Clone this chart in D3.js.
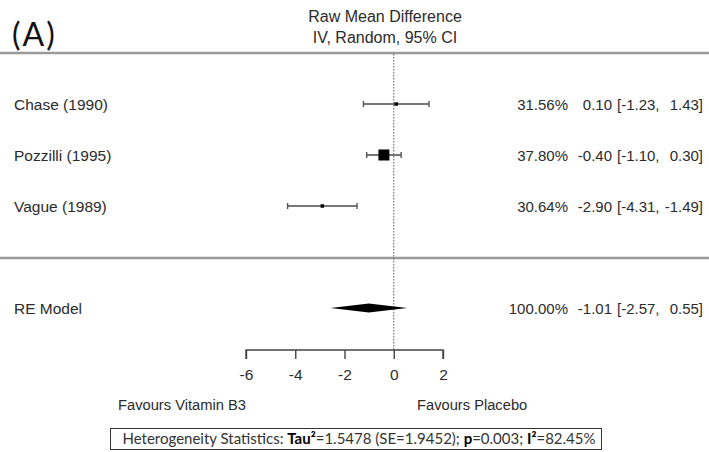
<!DOCTYPE html>
<html><head><meta charset="utf-8">
<script src="https://cdn.jsdelivr.net/npm/d3@7"></script>
<style>
html,body{margin:0;padding:0;background:#fff;}
svg{display:block;}
</style></head>
<body>
<script>
// ---- data ----
const studies = ["Chase (1990)", "Pozzilli (1995)", "Vague (1989)"];
const estimates = [0.10, -0.40, -2.90];
const ciLower = [-1.23, -1.10, -4.31];
const ciUpper = [1.43, 0.30, -1.49];
const weights = [31.56, 37.80, 30.64];
const summaryLabel = "RE Model";
const summaryEstimate = -1.01;
const summaryLower = -2.57;
const summaryUpper = 0.55;
const summaryWeight = 100.00;
const xTicks = [-6, -4, -2, 0, 2];
const titleLines = ["Raw Mean Difference", "IV, Random, 95% CI"];
const panelLabel = "(A)";
const favoursLeft = "Favours Vitamin B3";
const favoursRight = "Favours Placebo";

// ---- styles ----
const markerSize = [3.5, 11, 3.5];
const W = 709, H = 452;
const rFont = "'Liberation Sans', Arial, sans-serif";
const textColor = "#2b2b2b";

const svg = d3.select("body").append("svg").attr("width", W).attr("height", H);

const x = d3.scaleLinear().domain([-6, 2]).range([246, 443]);
const y = d3.scaleLinear().domain([0, 4]).range([104, 308]);

// horizontal separators
[53, 258].forEach(yy => svg.append("line")
  .attr("x1", 0).attr("x2", W).attr("y1", yy).attr("y2", yy)
  .attr("stroke", "#9a9a9a").attr("stroke-width", 2.5));

// panel label and title
svg.append("text").attr("x", 12).attr("y", 46).text(panelLabel)
  .attr("font-family", "Lato, 'Open Sans', sans-serif").attr("font-size", 32)
  .attr("letter-spacing", 2).attr("fill", "#111");
titleLines.forEach((t, i) => svg.append("text")
  .attr("x", 385).attr("y", 22 + i * 21).attr("text-anchor", "middle")
  .attr("font-family", rFont).attr("font-size", 16).attr("fill", textColor).text(t));

// reference line at 0
svg.append("line").attr("x1", x(0)).attr("x2", x(0)).attr("y1", 54).attr("y2", 350)
  .attr("stroke", "#555").attr("stroke-width", 1).attr("stroke-dasharray", "1.5,1.5");

// study rows
studies.forEach((s, i) => {
  const yy = y(i);
  svg.append("text").attr("x", 14).attr("y", yy + 5.5).text(s)
    .attr("font-family", rFont).attr("font-size", 15.5).attr("fill", textColor);
  const g = svg.append("g").attr("stroke", "#555").attr("stroke-width", 1.4);
  g.append("line").attr("x1", x(ciLower[i])).attr("x2", x(ciUpper[i])).attr("y1", yy).attr("y2", yy)
    .attr("stroke", "#777").attr("stroke-width", 1.8);
  [ciLower[i], ciUpper[i]].forEach(v => g.append("line")
    .attr("x1", x(v)).attr("x2", x(v)).attr("y1", yy - 3).attr("y2", yy + 3));
  const m = markerSize[i];
  svg.append("rect").attr("x", x(estimates[i]) - m / 2).attr("y", yy - m / 2)
    .attr("width", m).attr("height", m).attr("fill", "#000");
});

// summary diamond
{
  const yy = y(4);
  const pts = [[x(summaryLower), yy], [x(summaryEstimate), yy - 4.5], [x(summaryUpper), yy], [x(summaryEstimate), yy + 4.5]];
  svg.append("path").attr("d", d3.line()(pts) + "Z").attr("fill", "#000");
  svg.append("text").attr("x", 14).attr("y", yy + 5.5).text(summaryLabel)
    .attr("font-family", rFont).attr("font-size", 15.5).attr("fill", textColor);
}

// right annotations
const rows = studies.map((s, i) => ({ w: weights[i], e: estimates[i], lo: ciLower[i], hi: ciUpper[i], yy: y(i) }));
rows.push({ w: summaryWeight, e: summaryEstimate, lo: summaryLower, hi: summaryUpper, yy: y(4) });
rows.forEach(r => {
  const base = r.yy + 5.5;
  const txt = (xx, t, anchor) => svg.append("text").attr("x", xx).attr("y", base).text(t)
    .attr("text-anchor", anchor).attr("font-family", rFont).attr("font-size", 15).attr("fill", textColor);
  txt(568, r.w.toFixed(2) + "%", "end");
  txt(612, r.e.toFixed(2), "end");
  txt(617, "[" + r.lo.toFixed(2) + ",", "start");
  txt(703, r.hi.toFixed(2) + "]", "end");
});

// axis
const axis = d3.axisBottom(x).tickValues(xTicks).tickSize(9).tickPadding(10).tickFormat(d => String(d));
const ag = svg.append("g").attr("transform", "translate(0,350)").call(axis);
ag.select(".domain").attr("stroke", "#444").attr("stroke-width", 1.4).attr("d", `M${x(-6)},9V0H${x(2)}V9`);
ag.selectAll(".tick line").attr("stroke", "#444").attr("stroke-width", 1.4);
ag.selectAll(".tick text").attr("font-family", rFont).attr("font-size", 15.5).attr("fill", textColor);

// favours labels
svg.append("text").attr("x", 118).attr("y", 410).text(favoursLeft)
  .attr("font-family", rFont).attr("font-size", 14.7).attr("fill", textColor);
svg.append("text").attr("x", 417).attr("y", 410).text(favoursRight)
  .attr("font-family", rFont).attr("font-size", 14.7).attr("fill", textColor);

// heterogeneity box
svg.append("rect").attr("x", 110.5).attr("y", 428.5).attr("width", 491).attr("height", 21)
  .attr("fill", "none").attr("stroke", "#333").attr("stroke-width", 1);
const ht = svg.append("text").attr("x", 359).attr("y", 444).attr("text-anchor", "middle")
  .attr("font-family", "Lato, 'Open Sans', sans-serif").attr("font-size", 15).attr("fill", "#333");
ht.append("tspan").text("Heterogeneity Statistics: ");
ht.append("tspan").attr("font-weight", "bold").attr("fill", "#000").text("Tau²");
ht.append("tspan").text("=1.5478 (SE=1.9452); ");
ht.append("tspan").attr("font-weight", "bold").attr("fill", "#000").text("p");
ht.append("tspan").text("=0.003; ");
ht.append("tspan").attr("font-weight", "bold").attr("fill", "#000").text("I²");
ht.append("tspan").text("=82.45%");
</script>
</body></html>
